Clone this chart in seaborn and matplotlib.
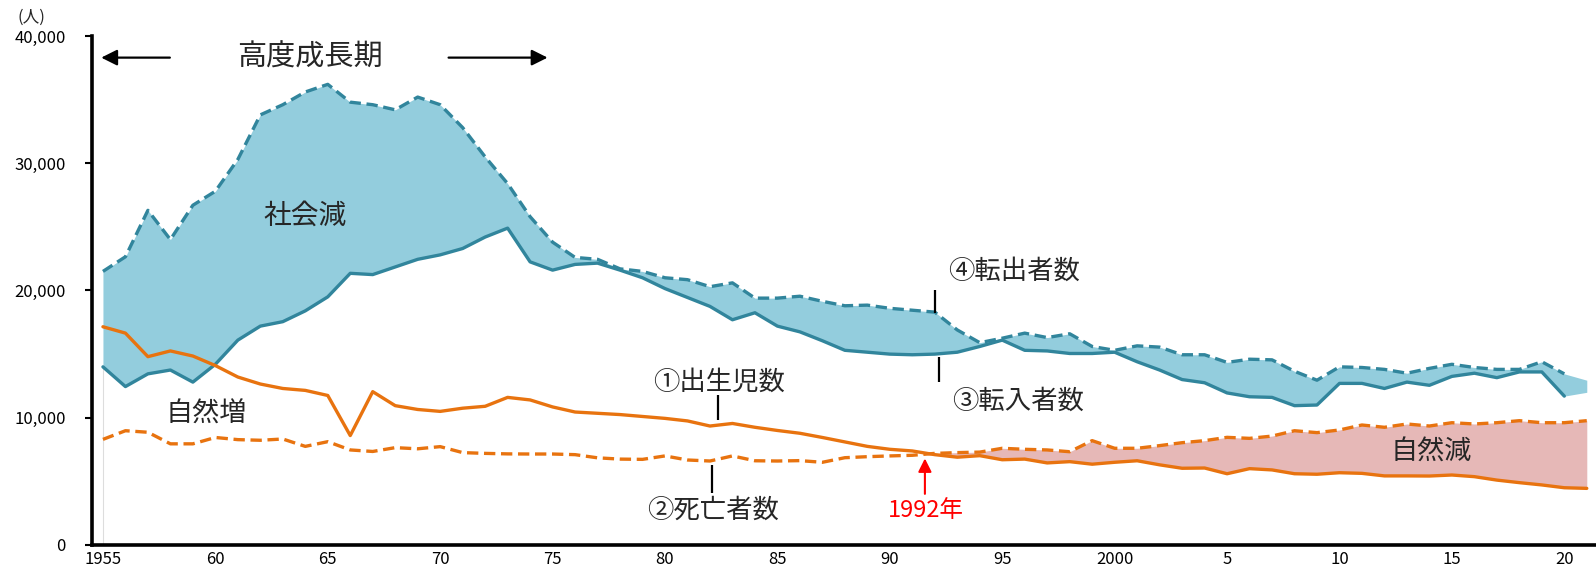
# Population flows chart (births / deaths / in- and out-migration)
import matplotlib
matplotlib.use("Agg")
import numpy as np
import matplotlib.pyplot as plt
import seaborn as sns

# --- data -----------------------------------------------------------------
years = list(range(1955, 2022))

# 転出者数 (last value = 2021, only used by the shaded area)
out_migr = [21500, 22650, 26300, 24000, 26700, 27800, 30300, 33800, 34600, 35600,
            36200, 34800, 34600, 34200, 35200, 34600, 32800, 30500, 28400, 25800,
            23800, 22600, 22450, 21700, 21500, 21000, 20850, 20300, 20600, 19400,
            19400, 19550, 19150, 18800, 18850, 18600, 18450, 18300, 16900, 15900,
            16250, 16650, 16300, 16600, 15600, 15300, 15650, 15550, 14950, 14950,
            14350, 14600, 14550, 13650, 12950, 14000, 13950, 13800, 13500, 13880,
            14200, 13950, 13800, 13800, 14400, 13450, 12950]
# 転入者数
in_migr = [14000, 12450, 13450, 13750, 12800, 14200, 16100, 17200, 17550, 18400,
           19500, 21350, 21250, 21850, 22450, 22800, 23300, 24200, 24900, 22250,
           21600, 22050, 22150, 21600, 21000, 20150, 19450, 18750, 17700, 18250,
           17200, 16750, 16050, 15300, 15150, 15000, 14950, 15000, 15150, 15600,
           16100, 15300, 15250, 15050, 15050, 15150, 14400, 13750, 13000, 12750,
           11950, 11650, 11600, 10950, 11000, 12700, 12700, 12300, 12800, 12550,
           13250, 13500, 13150, 13600, 13600, 11700, 12000]
# 出生児数
births = [17150, 16650, 14800, 15250, 14850, 14100, 13200, 12650, 12300, 12150,
          11750, 8600, 12050, 10950, 10650, 10500, 10750, 10900, 11600, 11400,
          10850, 10450, 10350, 10250, 10100, 9950, 9750, 9350, 9550, 9250,
          9000, 8780, 8450, 8100, 7750, 7520, 7390, 7100, 6900, 7020,
          6700, 6750, 6450, 6550, 6350, 6500, 6620, 6300, 6030, 6050,
          5600, 6000, 5900, 5600, 5560, 5680, 5630, 5430, 5430, 5420,
          5500, 5370, 5100, 4900, 4720, 4500, 4450]
# 死亡者数
deaths = [8300, 8980, 8860, 7950, 7950, 8450, 8280, 8230, 8330, 7750,
          8120, 7470, 7350, 7650, 7560, 7730, 7260, 7200, 7160, 7150,
          7150, 7100, 6850, 6750, 6730, 7000, 6680, 6600, 7000, 6620,
          6600, 6630, 6500, 6860, 6940, 7000, 7050, 7200, 7260, 7300,
          7600, 7520, 7470, 7330, 8200, 7600, 7600, 7810, 8040, 8200,
          8460, 8380, 8560, 8980, 8830, 9040, 9430, 9250, 9510, 9350,
          9610, 9510, 9610, 9770, 9610, 9610, 9770]

x_ticks = [1955, 1960, 1965, 1970, 1975, 1980, 1985, 1990, 1995, 2000, 2005, 2010, 2015, 2020]
x_tick_labels = ["1955", "60", "65", "70", "75", "80", "85", "90", "95", "2000", "5", "10", "15", "20"]
y_ticks = [0, 10000, 20000, 30000, 40000]
y_tick_labels = ["0", "10,000", "20,000", "30,000", "40,000"]

# --- style ----------------------------------------------------------------
TEAL = "#31859c"
TEAL_FILL = "#93cddd"
ORANGE = "#e8730f"
PINK_FILL = "#e6b8b7"

sns.set_theme(style="ticks")
plt.rcParams['font.family'] = ['Noto Sans CJK JP', 'DejaVu Sans']

fig = plt.figure(figsize=(15.96, 5.65), dpi=100)
ax = fig.add_axes([0.0576, 0.0354, 0.9424, 0.9009])

yr = np.array(years)
out_a = np.array(out_migr)
in_a = np.array(in_migr)
b_a = np.array(births)
d_a = np.array(deaths)

# shaded areas
ax.fill_between(yr, in_a, out_a, color=TEAL_FILL, lw=0, zorder=1)
ax.fill_between(yr, b_a, d_a, where=d_a >= b_a, interpolate=True,
                color=PINK_FILL, lw=0, zorder=1)
ax.vlines(years[0], 0, in_migr[0], color="#dddddd", lw=0.8, zorder=0)

# lines (migration lines stop at 2020)
dash = (0, (3.4, 1.7))
sns.lineplot(x=years[:-1], y=out_migr[:-1], ax=ax, color=TEAL, lw=2.4,
             linestyle=dash, zorder=3)
sns.lineplot(x=years[:-1], y=in_migr[:-1], ax=ax, color=TEAL, lw=2.4, zorder=3)
sns.lineplot(x=years, y=births, ax=ax, color=ORANGE, lw=2.4, zorder=4)
sns.lineplot(x=years, y=deaths, ax=ax, color=ORANGE, lw=2.4,
             linestyle=dash, zorder=4)

# axes
ax.set_xlim(1954.51, 2021.41)
ax.set_ylim(0, 40000)
ax.set_xticks(x_ticks)
ax.set_xticklabels(x_tick_labels, fontsize=12)
ax.set_yticks(y_ticks)
ax.set_yticklabels(y_tick_labels, fontsize=12)
ax.tick_params(axis="x", length=0, pad=4, colors="black")
ax.tick_params(axis="y", length=5, width=1.5, pad=14, colors="black", direction="out")
for side in ["top", "right"]:
    ax.spines[side].set_visible(False)
for side in ["left", "bottom"]:
    ax.spines[side].set_linewidth(2.6)
    ax.spines[side].set_color("black")
ax.set_xlabel("")
ax.set_ylabel("")
ax.grid(False)

fig.text(0.0195, 0.970, "(人)", fontsize=12, ha="center", va="center")

# 高度成長期 with arrows
ax.text(1964.2, 38300, "高度成長期", fontsize=21, ha="center", va="center")
ax.annotate("", xy=(1954.8, 38300), xytext=(1958.1, 38300),
            arrowprops=dict(arrowstyle="-|>", color="black", lw=1.6, mutation_scale=24))
ax.annotate("", xy=(1974.9, 38300), xytext=(1970.25, 38300),
            arrowprops=dict(arrowstyle="-|>", color="black", lw=1.6, mutation_scale=24))

ax.text(1964.0, 25850, "社会減", fontsize=20, ha="center", va="center")
ax.text(1959.6, 10290, "自然増", fontsize=19.5, ha="center", va="center")
ax.text(2014.07, 7330, "自然減", fontsize=19.5, ha="center", va="center")

# series labels with leader lines
ax.text(1992.58, 21480, "④転出者数", fontsize=19, ha="left", va="center")
ax.vlines(1992.0, 18230, 20040, color="black", lw=1.6, zorder=5)
ax.text(1992.75, 11260, "③転入者数", fontsize=19, ha="left", va="center")
ax.vlines(1992.2, 12830, 14780, color="black", lw=1.6, zorder=5)
ax.text(1979.45, 12830, "①出生児数", fontsize=19, ha="left", va="center")
ax.vlines(1982.36, 9820, 11790, color="black", lw=1.6, zorder=5)
ax.text(1979.22, 2750, "②死亡者数", fontsize=19, ha="left", va="center")
ax.vlines(1982.1, 4090, 6290, color="black", lw=1.6, zorder=5)

# 1992 turning point
ax.annotate("", xy=(1991.56, 7020), xytext=(1991.56, 3800),
            arrowprops=dict(arrowstyle="-|>", color="red", lw=1.5, mutation_scale=20))
ax.text(1991.6, 2750, "1992年", fontsize=17, color="red", ha="center", va="center")

fig.savefig("out.png", dpi=100)
